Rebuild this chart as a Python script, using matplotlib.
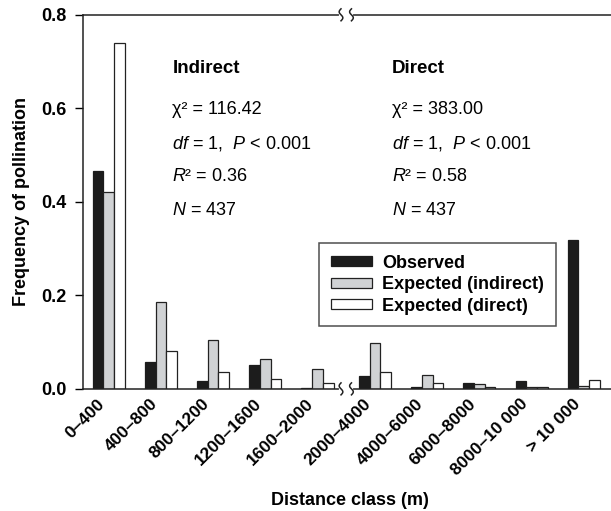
import numpy as np
import matplotlib
matplotlib.use('Agg')
from matplotlib import pyplot as plt
from matplotlib.transforms import blended_transform_factory, ScaledTranslation

plt.rcParams['font.family'] = ['Liberation Sans', 'DejaVu Sans']
plt.rcParams['mathtext.fontset'] = 'custom'
plt.rcParams['mathtext.it'] = 'Liberation Sans:italic'
plt.rcParams['mathtext.rm'] = 'Liberation Sans'

klassen = ['0\u2013400', '400\u2013800', '800\u20131200', '1200\u20131600', '1600\u20132000',
           '2000\u20134000', '4000\u20136000', '6000\u20138000', '8000\u201310 000', '> 10 000']
beobachtet = [0.465, 0.057, 0.016, 0.050, 0.002, 0.027, 0.005, 0.012, 0.016, 0.318]
erwartet_indirekt = [0.420, 0.185, 0.104, 0.064, 0.043, 0.099, 0.030, 0.011, 0.005, 0.007]
erwartet_direkt = [0.740, 0.081, 0.037, 0.021, 0.013, 0.037, 0.013, 0.005, 0.003, 0.018]

statistik = {
  'Indirect': ['\u03c7\u00b2 = 116.42', r'$\it{df}$ = 1,  $\it{P}$ < 0.001', r'$\it{R}$² = 0.36', r'$\it{N}$ = 437'],
  'Direct': ['\u03c7\u00b2 = 383.00', r'$\it{df}$ = 1,  $\it{P}$ < 0.001', r'$\it{R}$² = 0.58', r'$\it{N}$ = 437'],
}

fig = plt.figure(figsize=(6.11, 5.11), dpi=100)
ax = fig.add_axes([0.136, 0.239, 0.875, 0.732])

# break between 1600-2000 and 2000-4000 adds a little space
pos = np.arange(len(klassen)) + np.where(np.arange(len(klassen)) >= 5, 0.1, 0.0)
w = 0.205

ax.bar(pos - w, beobachtet, w, color='#1c1c1c', edgecolor='#1c1c1c', linewidth=0.9, label='Observed')
ax.bar(pos, erwartet_indirekt, w, color='#d0d2d4', edgecolor='#222222', linewidth=0.9, label='Expected (indirect)')
ax.bar(pos + w, erwartet_direkt, w, color='white', edgecolor='#222222', linewidth=0.9, label='Expected (direct)')

ax.set_xlim(-0.49, 9.75)
ax.set_ylim(0, 0.8)
ax.set_yticks([0, 0.2, 0.4, 0.6, 0.8])
ax.set_yticklabels(['0.0', '0.2', '0.4', '0.6', '0.8'], fontsize=13, fontweight='bold')
ax.tick_params(axis='y', direction='out', length=6, width=1, pad=6)
ax.set_xticks(pos)
ax.set_xticklabels(klassen, rotation=45, ha='right', va='center', rotation_mode='anchor',
                   fontsize=12.5, fontweight='bold')
ax.tick_params(axis='x', length=0, pad=9)
verschiebung = ScaledTranslation(-6 / 100, 0, fig.dpi_scale_trans)
for lab in ax.get_xticklabels():
  lab.set_transform(lab.get_transform() + verschiebung)

for s in ['left', 'top', 'bottom']:
  ax.spines[s].set_linewidth(1.1)
  ax.spines[s].set_color('#222222')
ax.spines['right'].set_visible(False)

ax.set_ylabel('Frequency of pollination', fontsize=13, fontweight='bold', labelpad=8)
ax.set_xlabel('Distance class (m)', fontsize=13, fontweight='bold', labelpad=10)

# Achsenbruch oben und unten
trans = blended_transform_factory(ax.transData, ax.transAxes)
xb = (pos[4] + pos[5]) / 2
t = np.linspace(-1, 1, 40)
for yb in [0, 1]:
  ax.plot([xb - 0.1, xb + 0.1], [yb, yb], color='white', lw=3, transform=trans, clip_on=False, zorder=5)
  for dx in [-0.1, 0.1]:
    ax.plot(xb + dx - 0.035 * np.sin(t * np.pi), yb + t * 0.016, color='#222222', lw=1.1,
            transform=trans, clip_on=False, zorder=6)

for i, (titel, zeilen) in enumerate(statistik.items()):
  x0 = 1.22 + i * 4.2
  ax.text(x0, 0.685, titel, fontsize=13.5, fontweight='bold', va='center')
  for j, z in enumerate(zeilen):
    ax.text(x0, 0.598 - j * 0.0722, z, fontsize=13, va='center')

leg = ax.legend(loc='upper left', bbox_to_anchor=(0.441, 0.39), prop={'weight': 'bold', 'size': 13},
                frameon=True, fancybox=False, edgecolor='#222222', handlelength=2.3, handleheight=0.5,
                labelspacing=0.25, borderpad=0.65, handletextpad=0.55, borderaxespad=0)
leg.get_frame().set_linewidth(1.1)

fig.savefig('out.png', dpi=100)
